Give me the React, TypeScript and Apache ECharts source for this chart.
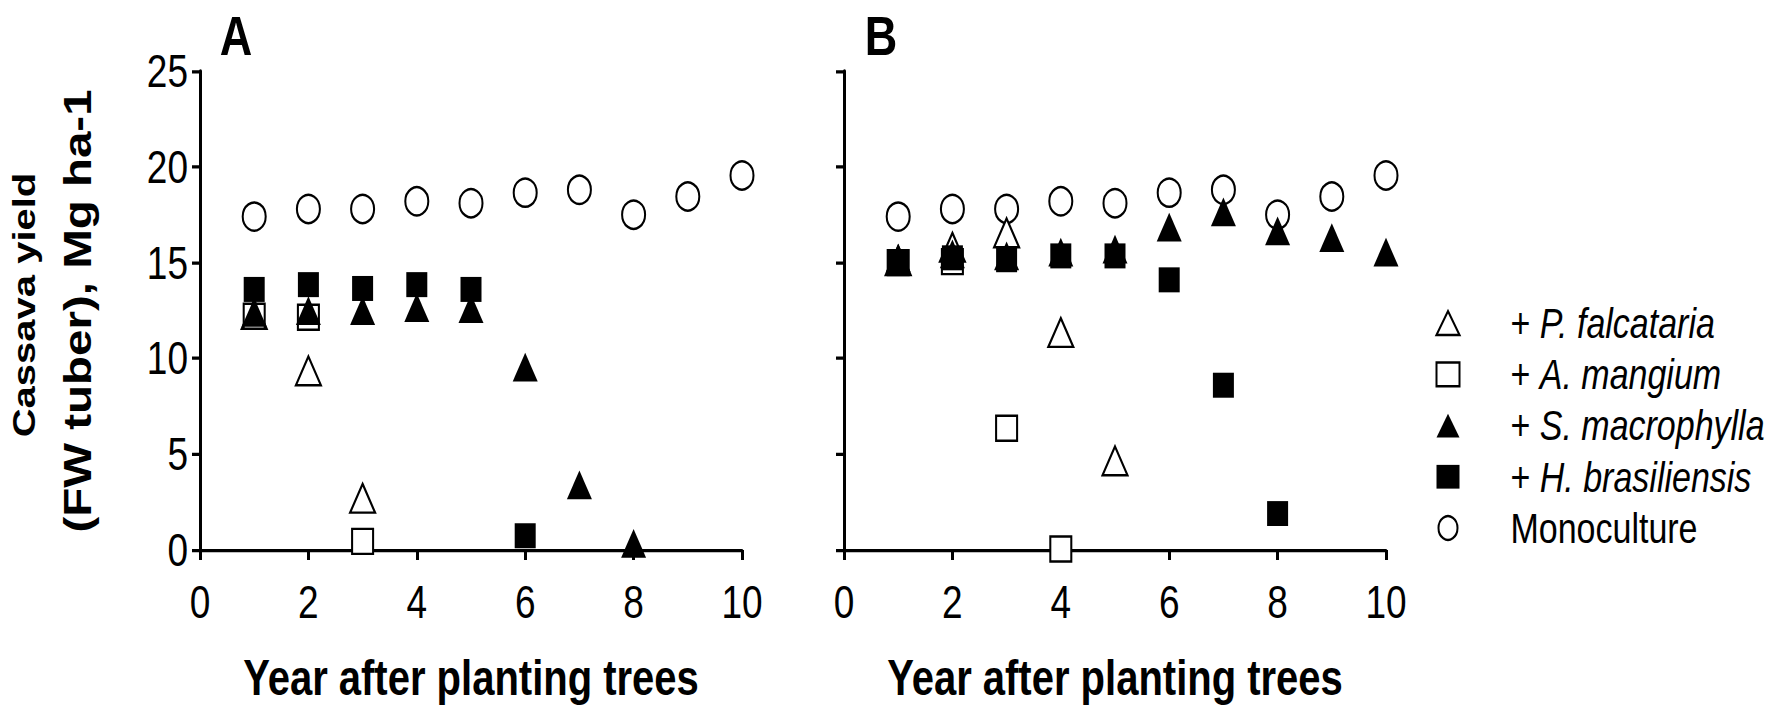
import React, { useEffect, useRef } from "react";
import * as echarts from "echarts";

// ---- data ----
const years = [1, 2, 3, 4, 5, 6, 7, 8, 9, 10];
const seriesNames = ["+ P. falcataria", "+ A. mangium", "+ S. macrophylla", "+ H. brasiliensis", "Monoculture"];
const xAxisTitle = "Year after planting trees";
const yAxisTitle = ["Cassava yield", "(FW tuber), Mg ha-1"];
const panelTitles = ["A", "B"];

// Panel A
const pfA = [12.3, 9.35, 2.7];
const amA = [12.2, 12.15, 0.45];
const smA = [12.4, 12.5, 12.5, 12.65, 12.6, 9.55, 3.4, 0.35];
const hbA = [13.6, 13.85, 13.65, 13.85, 13.6, 0.75];
const monoA = [17.4, 17.8, 17.8, 18.2, 18.1, 18.65, 18.8, 17.5, 18.45, 19.55];
// Panel B
const pfB = [15.1, 15.8, 16.55, 11.35, 4.65];
const amB = [15.0, 15.05, 6.35, 0.05];
const smB = [15.25, 15.45, 15.35, 15.55, 15.7, 16.85, 17.65, 16.65, 16.3, 15.55];
const hbB = [15.0, 15.25, 15.15, 15.35, 15.35, 14.1, 8.6, 1.9];
const monoB = [17.4, 17.8, 17.8, 18.2, 18.1, 18.65, 18.8, 17.5, 18.45, 19.55];

const panelData = [
  [pfA, amA, smA, hbA, monoA],
  [pfB, amB, smB, hbB, monoB],
];

// The original figure is stretched vertically; the chart is drawn in an
// unstretched frame and the whole chart is scaled vertically by S.
const S = 1.25;
const W = 1789;
const H = 708 / S;

const SANS = "'Liberation Sans', Arial, sans-serif";

const symbolStyles = [
  { symbol: "triangle", size: [25, 23], fill: "#ffffff", border: 2 },
  { symbol: "rect", size: [21, 20], fill: "#ffffff", border: 2 },
  { symbol: "triangle", size: [25, 23], fill: "#000000", border: 0 },
  { symbol: "rect", size: [21, 20], fill: "#000000", border: 0 },
  { symbol: "circle", size: [23, 22.5], fill: "#ffffff", border: 2 },
];
const drawOrder = [4, 0, 1, 2, 3];

const pairs = (vals: number[]) => vals.map((v, i) => [years[i], v]);

export default function App() {
  const ref = useRef<HTMLDivElement>(null);
  useEffect(() => {
    document.body.style.margin = "0";
    document.body.style.background = "#ffffff";
    if (!ref.current) return;
    const chart = echarts.init(ref.current, null, { renderer: "svg" });

    const gTop = 71 / S;
    const gH = 479 / S;
    const grids = [
      { left: 200, top: gTop, width: 542, height: gH, outerBoundsMode: "none", containLabel: false },
      { left: 844, top: gTop, width: 542, height: gH, outerBoundsMode: "none", containLabel: false },
    ];

    const xAxes = grids.map((_, gi) => ({
      type: "value",
      gridIndex: gi,
      min: 0,
      max: 10,
      interval: 2,
      axisLine: { lineStyle: { color: "#000", width: 2.6 } },
      axisTick: { length: 8, lineStyle: { color: "#000", width: 3 } },
      axisLabel: { margin: 23, fontSize: 37, fontFamily: SANS, color: "#000" },
      splitLine: { show: false },
      name: xAxisTitle,
      nameLocation: "middle",
      nameGap: 82,
      nameTextStyle: { fontFamily: SANS, fontWeight: "bold", fontSize: 40, lineHeight: 40, color: "#000" },
    }));

    const yAxes = grids.map((_, gi) => ({
      type: "value",
      gridIndex: gi,
      min: 0,
      max: 25,
      interval: 5,
      axisLine: { show: true, lineStyle: { color: "#000", width: 3 } },
      axisTick: { show: true, length: 8, lineStyle: { color: "#000", width: 2.6 } },
      axisLabel: { show: gi === 0, margin: 12, fontSize: 37, fontFamily: SANS, color: "#000" },
      splitLine: { show: false },
    }));

    const series: any[] = [];
    panelData.forEach((arrs, gi) => {
      drawOrder.forEach((si) => {
        const st = symbolStyles[si];
        series.push({
          type: "scatter",
          name: seriesNames[si],
          xAxisIndex: gi,
          yAxisIndex: gi,
          data: pairs(arrs[si]),
          symbol: st.symbol,
          symbolSize: st.size,
          itemStyle: { color: st.fill, borderColor: "#000", borderWidth: st.border, opacity: 1 },
          emphasis: { disabled: true },
        });
      });
    });

    const graphic: any[] = [
      {
        type: "text",
        x: 24,
        y: 305 / S,
        rotation: Math.PI / 2,
        style: { text: yAxisTitle[0], font: `bold 32px ${SANS}`, fill: "#000", textAlign: "center", textVerticalAlign: "middle" },
      },
      {
        type: "text",
        x: 78,
        y: 311 / S,
        rotation: Math.PI / 2,
        style: { text: yAxisTitle[1], font: `bold 38px ${SANS}`, fill: "#000", textAlign: "center", textVerticalAlign: "middle" },
      },
      {
        type: "text",
        x: 236,
        y: 36 / S,
        style: { text: panelTitles[0], font: `bold 45px ${SANS}`, fill: "#000", textAlign: "center", textVerticalAlign: "middle" },
      },
      {
        type: "text",
        x: 881,
        y: 36 / S,
        style: { text: panelTitles[1], font: `bold 45px ${SANS}`, fill: "#000", textAlign: "center", textVerticalAlign: "middle" },
      },
    ];

    chart.setOption({
      animation: false,
      backgroundColor: "#ffffff",
      grid: grids,
      xAxis: xAxes,
      yAxis: yAxes,
      series,
      graphic,
      legend: {
        orient: "vertical",
        left: 1447 - 11.5,
        top: 323 / S - 20.5,
        padding: 0,
        itemGap: 0,
        itemWidth: 23,
        itemHeight: 19,
        selectedMode: false,
        data: seriesNames,
        formatter: (name: string) => (name.startsWith("+ ") ? `{g| }+ {i|${name.slice(2)}}` : `{g| }${name}`),
        textStyle: {
          fontFamily: SANS,
          fontSize: 34,
          lineHeight: 41,
          color: "#000",
          rich: {
            g: { width: 46, fontSize: 34, lineHeight: 41 },
            i: { fontFamily: SANS, fontStyle: "italic", fontSize: 34, lineHeight: 41, color: "#000" },
          },
        },
      },
    });
    return () => chart.dispose();
  }, []);
  return (
    <div style={{ width: W, height: 708, overflow: "hidden" }}>
      <div ref={ref} style={{ width: W, height: H, transform: `scaleY(${S})`, transformOrigin: "0 0" }} />
    </div>
  );
}
